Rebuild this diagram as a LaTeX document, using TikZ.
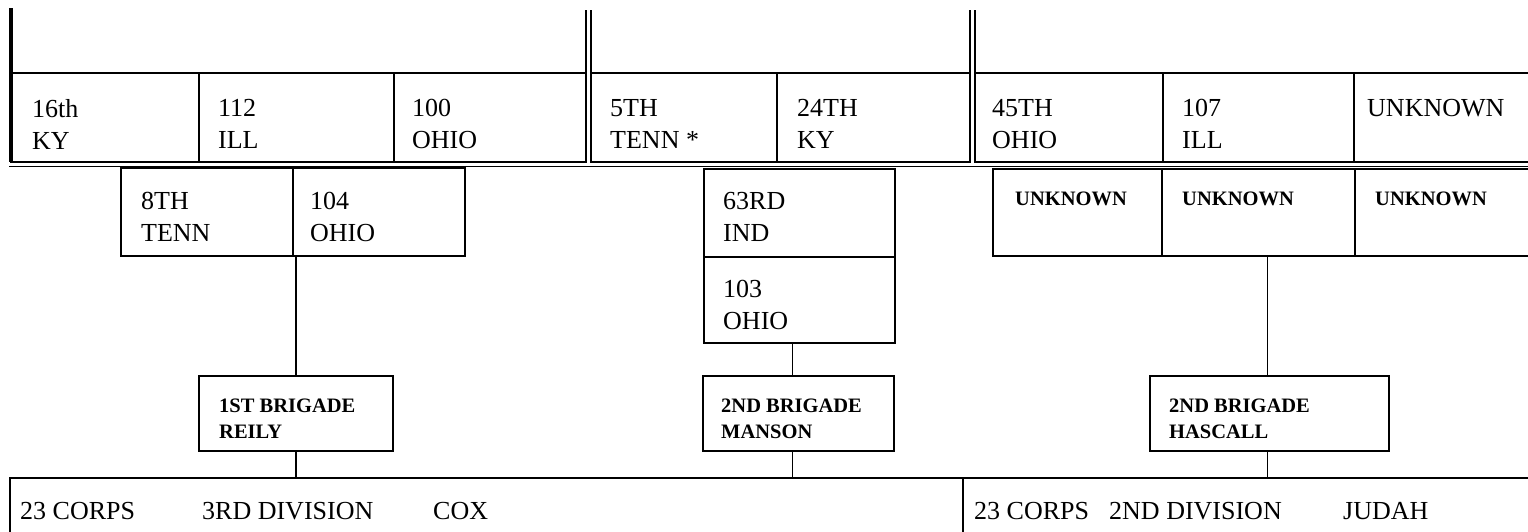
\documentclass[tikz,border=0pt]{standalone}
\usepackage{fontspec}
\setmainfont{Liberation Serif}
\usetikzlibrary{calc}
\begin{document}
\begin{tikzpicture}[x=1pt,y=-1pt,
  box/.style={draw, line width=2.6pt, inner sep=0pt, outer sep=0pt, anchor=north west},
  txt/.style={anchor=north west, inner sep=0pt, align=left, font=\fontsize{26}{32}\selectfont},
  btxt/.style={anchor=north west, inner sep=0pt, align=left, font=\bfseries\fontsize{20.5}{26}\selectfont},
  conn/.style={line width=1.8pt}]
\useasboundingbox[fill=white] (0,0) rectangle (1528,531);

% top row
\node[box, minimum width=188pt, minimum height=89pt] (r16ky) at (11,73) {};
\node[box, minimum width=195pt, minimum height=89pt] (r112) at (199,73) {};
\node[box, minimum width=192pt, minimum height=89pt] (r100) at (394,73) {};
\node[box, minimum width=186pt, minimum height=89pt] (r5tenn) at (591,73) {};
\node[box, minimum width=193pt, minimum height=89pt] (r24ky) at (777,73) {};
\node[box, minimum width=188pt, minimum height=89pt] (r45oh) at (975,73) {};
\node[box, minimum width=191pt, minimum height=89pt] (r107) at (1163,73) {};
\node[box, minimum width=200pt, minimum height=89pt] (runk) at (1354,73) {};

\coordinate (v0) at (11,8);
\coordinate (v1) at (586,10);
\coordinate (v2) at (591,10);
\coordinate (v3) at (970,10);
\coordinate (v4) at (975,10);
\draw[line width=4pt] (v0) -- (r16ky.south west);
\draw[line width=2.6pt] (v1) -- (r100.north east);
\draw[line width=2.6pt] (v2) -- (r5tenn.north west);
\draw[line width=2.6pt] (v3) -- (r24ky.north east);
\draw[line width=2.6pt] (v4) -- (r45oh.north west);
\coordinate (h0) at (9,166.5);
\coordinate (h1) at (1528,166.5);
\draw[line width=1.6pt] (h0) -- (h1);

\node[txt] (t16ky) at (32,99) {16th\\KY};
\node[txt] (t112) at (218,99) {112\\ILL};
\node[txt] (t100) at (412,99) {100\\OHIO};
\node[txt] (t5tenn) at (610,99) {5TH\\TENN *};
\node[txt] (t24ky) at (797,99) {24TH\\KY};
\node[txt] (t45oh) at (992,99) {45TH\\OHIO};
\node[txt] (t107) at (1182,99) {107\\ILL};
\node[txt] (tunk) at (1367,99) {UNKNOWN};

% second row
\node[box, minimum width=172pt, minimum height=88pt] (s8tenn) at (121,168) {};
\node[box, minimum width=172pt, minimum height=88pt] (s104) at (293,168) {};
\node[box, minimum width=191pt, minimum height=88pt] (s63) at (704,169) {};
\node[box, minimum width=191pt, minimum height=86pt] (s103) at (704,257) {};
\node[box, minimum width=169pt, minimum height=87pt] (su1) at (993,169) {};
\node[box, minimum width=193pt, minimum height=87pt] (su2) at (1162,169) {};
\node[box, minimum width=200pt, minimum height=87pt] (su3) at (1355,169) {};

\node[txt] (t8tenn) at (141,192) {8TH\\TENN};
\node[txt] (t104) at (310,192) {104\\OHIO};
\node[txt] (t63) at (723,192) {63RD\\IND};
\node[txt] (t103) at (723,280) {103\\OHIO};
\node[btxt] (tu1) at (1015,192) {UNKNOWN};
\node[btxt] (tu2) at (1182,192) {UNKNOWN};
\node[btxt] (tu3) at (1375,192) {UNKNOWN};

% brigades
\node[box, minimum width=194pt, minimum height=75pt] (b1) at (199,376) {};
\node[box, minimum width=191pt, minimum height=75pt] (b2) at (703,376) {};
\node[box, minimum width=239pt, minimum height=75pt] (b3) at (1150,376) {};
\node[btxt] (tb1) at (219,399) {1ST BRIGADE\\REILY};
\node[btxt] (tb2) at (721,399) {2ND BRIGADE\\MANSON};
\node[btxt] (tb3) at (1169,399) {2ND BRIGADE\\HASCALL};

% divisions
\node[box, minimum width=953pt, minimum height=80pt] (d3) at (10,478) {};
\node[box, minimum width=600pt, minimum height=80pt] (d2) at (963,478) {};
\node[txt] (tc1) at (20,502) {23 CORPS};
\node[txt] (tc2) at (202,502) {3RD DIVISION};
\node[txt] (tc3) at (433,502) {COX};
\node[txt] (tj1) at (974,502) {23 CORPS};
\node[txt] (tj2) at (1109,502) {2ND DIVISION};
\node[txt] (tj3) at (1343,502) {JUDAH};

% connectors
\draw[conn] (b1.north |- s104.south) -- (b1.north);
\draw[conn] (b1.south) -- (b1.south |- d3.north);
\draw[conn] ([xshift=-7pt]s103.south) -- ([xshift=-7pt]s103.south |- b2.north);
\draw[conn] ([xshift=-7pt]s103.south |- b2.south) -- ([xshift=-7pt]s103.south |- d3.north);
\draw[conn] ([xshift=-2pt]b3.north |- su2.south) -- ([xshift=-2pt]b3.north);
\draw[conn] ([xshift=-2pt]b3.south) -- ([xshift=-2pt]b3.south |- d2.north);
\end{tikzpicture}
\end{document}
